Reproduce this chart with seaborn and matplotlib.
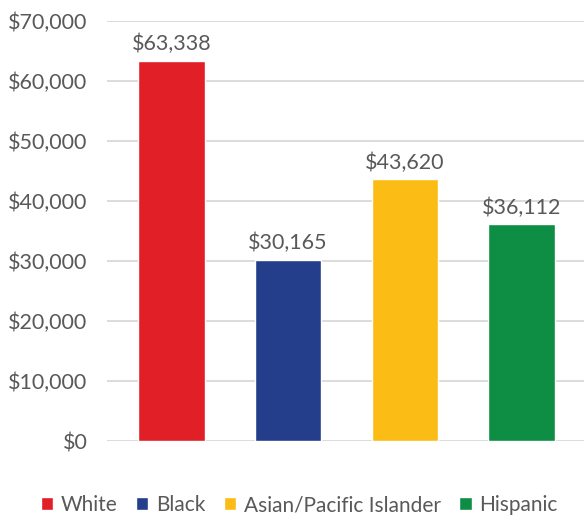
import matplotlib
matplotlib.use('Agg')

import pandas as pd
import matplotlib.pyplot as plt
import seaborn as sns
from matplotlib.patches import Patch
from matplotlib.ticker import FuncFormatter

groups = ["White", "Black", "Asian/Pacific Islander", "Hispanic"]
incomes = [63338, 30165, 43620, 36112]
colors = ["#E01F26", "#243E8C", "#FBBC15", "#0E8E45"]

df = pd.DataFrame({"group": groups, "income": incomes})

sns.set_theme(style="white")
plt.rcParams['font.family'] = ['Lato', 'DejaVu Sans']
text_color = "#595959"

fig = plt.figure(figsize=(5.84, 5.17), dpi=100)
ax = fig.add_axes([107 / 584, 76 / 517, 477 / 584, 420 / 517])

sns.barplot(data=df, x="group", y="income", hue="group", palette=colors,
            width=0.57, legend=False, ax=ax, saturation=1)

ax.set_ylim(0, 70000)
ax.set_xlim(-0.553, 3.536)
ax.set_yticks(range(0, 70001, 10000))
ax.yaxis.set_major_formatter(FuncFormatter(lambda v, p: f"${v:,.0f}"))
ax.yaxis.grid(True, color="#D9D9D9", linewidth=1.3)
ax.set_axisbelow(True)
ax.tick_params(axis="y", labelsize=15.5, labelcolor=text_color, length=0, pad=14)
ax.set_xticks([])
ax.set_xlabel("")
ax.set_ylabel("")
for s in ax.spines.values():
    s.set_visible(False)

for i, v in enumerate(incomes):
    ax.text(i, v + 1100, f"${v:,}", ha="center", va="bottom", fontsize=15.5, color=text_color)

handles = [Patch(facecolor=c, label=g) for g, c in zip(groups, colors)]
fig.legend(handles=handles, loc="center", bbox_to_anchor=(0.512, 12 / 517), ncol=4,
           frameon=False, fontsize=15, labelcolor=text_color, handlelength=0.6,
           handleheight=0.6, handletextpad=0.35, columnspacing=0.9)

plt.savefig("out.png", dpi=100)
